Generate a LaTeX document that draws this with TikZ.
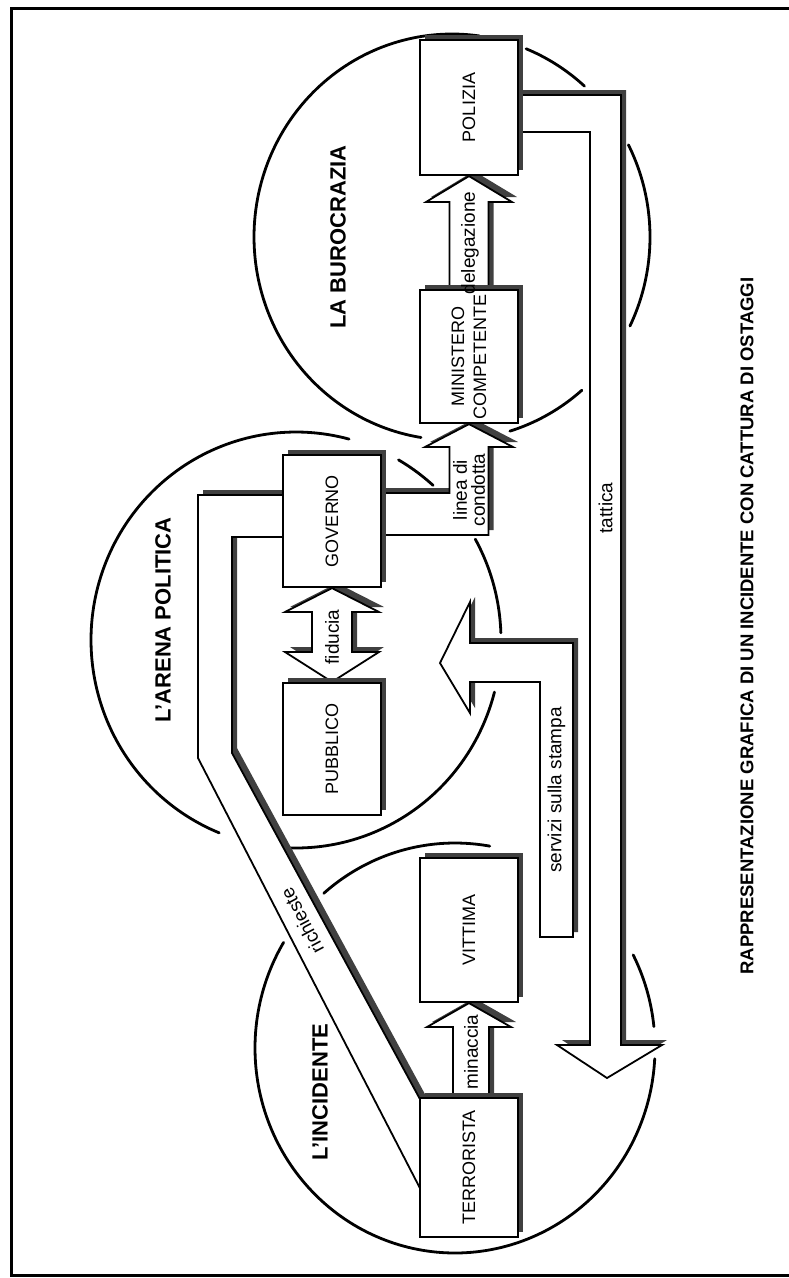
\documentclass[tikz,border=0pt]{standalone}
\usepackage{fontspec}
\setmainfont{Liberation Sans}
\usetikzlibrary{calc,shadows}
\pgfdeclarelayer{back}
\pgfsetlayers{back,main}
\newcommand\PDeleg{(449.5,300) -- (449.5,202) -- (426,202) -- (polizia.south) -- (512,202) -- (488.5,202) -- (488.5,300) -- cycle}
\newcommand\PLinea{($(governo.east)+(-10,-28)$) -- (449.5,493) -- (449.5,447) -- (425,447) -- (ministero.south) -- (513,447) -- (488.5,447) -- (488.5,535) -- ($(governo.east)+(-10,14)$) -- cycle}
\newcommand\PFid{(governo.south) -- (379,612) -- (352,612) -- (352,652) -- (379,652) -- (pubblico.north) -- (285,652) -- (312,652) -- (312,612) -- (285,612) -- cycle}
\newcommand\PMin{(453,1105) -- (453,1027) -- (427,1027) -- (vittima.south) -- (511,1027) -- (489,1027) -- (489,1105) -- cycle}
\newcommand\PRich{($(governo.west)+(10,-26)$) -- (198,495) -- (198,758) -- (440,1227) -- (440,1136) -- (232,753) -- (232,537) -- ($(governo.west)+(10,16)$) -- cycle}
\newcommand\PServ{(440,663) -- (470,602) -- (470,643) -- (573,643) -- (573,937) -- (540,937) -- (540,682) -- (470,682) -- (470,713) -- cycle}
\newcommand\PTatt{($(polizia.east)+(-10,-12.5)$) -- (621,95) -- (621,1045) -- (662,1045) -- (607,1078) -- (557,1045) -- (590,1045) -- (590,132) -- ($(polizia.east)+(-10,24.5)$) -- cycle}
\begin{document}
\begin{tikzpicture}[x=1pt,y=-1pt,
  box/.style={draw, line width=2.2pt, fill=white, minimum width=98pt, inner sep=0pt,
    general shadow={fill=black!75, shadow xshift=5pt, shadow yshift=5pt}},
  arr/.style={draw, line width=1.8pt, fill=white, line join=miter},
  shd/.style={fill=black!75, transform canvas={shift={(5pt,5pt)}}},
  ell/.style={line width=2.8pt, line cap=round},
  head/.style={font=\bfseries\fontsize{22}{24}\selectfont, rotate=90, inner sep=0pt},
  boxtxt/.style={font=\fontsize{18}{22}\selectfont, rotate=90, inner sep=0pt, align=center},
  lblbase/.style={font=\fontsize{19}{18}\selectfont, inner sep=0pt, align=center},
  lbl/.style={lblbase, rotate=90}]
\useasboundingbox (0,0) rectangle (789,1278);
% frame
\draw[line width=3pt] (789,8) -- (11,8) -- (11,1275) -- (789,1275);

% boxes
\node[box, minimum height=135pt] (polizia) at (469,107.5) {};
\node[box, minimum height=133pt] (ministero) at (469,356.5) {};
\node[box, minimum height=132pt] (governo) at (332,521) {};
\node[box, minimum height=132pt] (pubblico) at (332,749) {};
\node[box, minimum height=144pt] (vittima) at (469,930) {};
\node[box, minimum height=139pt] (terrorista) at (469,1167.5) {};

\begin{pgfonlayer}{back}
\fill[white] (0,0) rectangle (789,1278);
% ellipses (broken arcs)
\draw[ell] plot[domain=-261:-82, samples=120, variable=\t] ({452+198*cos(\t)},{237+203*sin(\t)});
\draw[ell] plot[domain=49:73, samples=30, variable=\t] ({452+198*cos(\t)},{237+203*sin(\t)});
\draw[ell] plot[domain=-27:26, samples=50, variable=\t] ({452+198*cos(\t)},{237+203*sin(\t)});
\draw[ell] plot[domain=-68:-48, samples=30, variable=\t] ({452+198*cos(\t)},{237+203*sin(\t)});
\draw[ell] plot[domain=-248:-75, samples=120, variable=\t] ({296+205*cos(\t)},{640+208*sin(\t)});
\draw[ell] plot[domain=14.5:94, samples=60, variable=\t] ({296+205*cos(\t)},{640+208*sin(\t)});
\draw[ell] plot[domain=-29:-2, samples=30, variable=\t] ({296+205*cos(\t)},{640+208*sin(\t)});
\draw[ell] plot[domain=-60:-48, samples=20, variable=\t] ({296+205*cos(\t)},{640+208*sin(\t)});
\draw[ell] plot[domain=-131:-80, samples=50, variable=\t] ({455+200*cos(\t)},{1048+205*sin(\t)});
\draw[ell] plot[domain=3:211, samples=150, variable=\t] ({455+200*cos(\t)},{1048+205*sin(\t)});
\draw[ell] plot[domain=-27:-6, samples=30, variable=\t] ({455+200*cos(\t)},{1048+205*sin(\t)});
% block arrows: shadows
\path[shd] \PRich;
\path[shd] \PLinea;
\path[shd] \PTatt;
\path[shd] \PServ;
\path[shd] \PDeleg;
\path[shd] \PFid;
\path[shd] \PMin;
% block arrows
\path[arr] \PRich;
\path[arr] \PLinea;
\path[arr] \PTatt;
\path[arr] \PServ;
\path[arr] \PDeleg;
\path[arr] \PFid;
\path[arr] \PMin;
\end{pgfonlayer}

% headings
\node[head] (hbur) at (338,237) {LA BUROCRAZIA};
\node[head] (hare) at (163,620) {L’ARENA POLITICA};
\node[head] (hinc) at (320,1092) {L’INCIDENTE};
% box texts
\node[boxtxt] (tpol) at (polizia.center) {POLIZIA};
\node[boxtxt] (tmin) at (ministero.center) {MINISTERO\\COMPETENTE};
\node[boxtxt] (tgov) at (governo.center) {GOVERNO};
\node[boxtxt] (tpub) at (pubblico.center) {PUBBLICO};
\node[boxtxt] (tvit) at (vittima.center) {VITTIMA};
\node[boxtxt] (tter) at (terrorista.center) {TERRORISTA};
% arrow labels
\node[lbl] (ldel) at (470,243) {delegazione};
\node[lbl] (llin) at (469,490) {linea di\\condotta};
\node[lbl] (lfid) at (332,637) {fiducia};
\node[lbl] (lmin) at (471,1052) {minaccia};
\node[lblbase, rotate=118] (lric) at (302,921) {richieste};
\node[lbl] (lser) at (556.5,790) {servizi sulla stampa};
\node[lbl] (ltat) at (605.5,508) {tattica};
% caption
\node[font=\bfseries\fontsize{18.5}{20}\selectfont, rotate=90, inner sep=0pt] (caption) at (747,626) {RAPPRESENTAZIONE GRAFICA DI UN INCIDENTE CON CATTURA DI OSTAGGI};
\end{tikzpicture}
\end{document}
